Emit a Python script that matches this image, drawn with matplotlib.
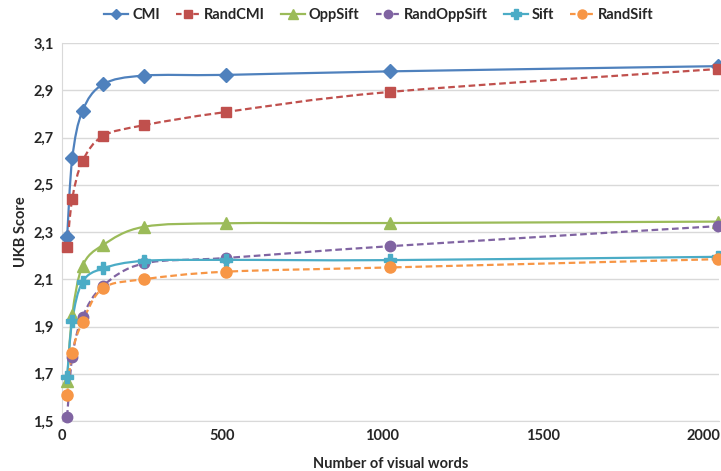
import numpy as np
import matplotlib.pyplot as plt
from matplotlib.path import Path
from matplotlib.patches import PathPatch
from matplotlib.lines import Line2D
from matplotlib.ticker import FuncFormatter

plt.rcParams['font.family'] = ['Lato', 'DejaVu Sans']

words = [16, 32, 64, 128, 256, 512, 1024, 2048]
cmi = [2.278, 2.612, 2.813, 2.925, 2.962, 2.965, 2.980, 3.002]
rand_cmi = [2.235, 2.440, 2.600, 2.706, 2.752, 2.808, 2.893, 2.990]
opp_sift = [1.670, 1.949, 2.156, 2.245, 2.322, 2.337, 2.338, 2.344]
rand_opp_sift = [1.518, 1.772, 1.940, 2.072, 2.167, 2.190, 2.240, 2.325]
sift = [1.688, 1.925, 2.088, 2.146, 2.178, 2.182, 2.181, 2.195]
rand_sift = [1.610, 1.789, 1.920, 2.062, 2.100, 2.132, 2.150, 2.185]

series = [
    ('CMI', cmi, '#4F81BD', '-', 'D', 7),
    ('RandCMI', rand_cmi, '#C0504D', '--', 's', 7.5),
    ('OppSift', opp_sift, '#9BBB59', '-', '^', 8),
    ('RandOppSift', rand_opp_sift, '#8064A2', '--', 'o', 7.5),
    ('Sift', sift, '#4BACC6', '-', 'P', 8.5),
    ('RandSift', rand_sift, '#F79646', '--', 'o', 8),
]


def smooth_path(x, y):
    # cubic bezier through the points, like a spreadsheet "smoothed line"
    p = np.column_stack([x, y]).astype(float)
    n = len(p)
    verts = [p[0]]
    codes = [Path.MOVETO]
    for i in range(n - 1):
        p0 = p[max(i - 1, 0)]
        p1 = p[i]
        p2 = p[i + 1]
        p3 = p[min(i + 2, n - 1)]
        c1 = p1 + (p2 - p0) / 6.0
        c2 = p2 - (p3 - p1) / 6.0
        verts += [c1, c2, p2]
        codes += [Path.CURVE4] * 3
    return Path(verts, codes)


fig = plt.figure(figsize=(7.21, 4.71), dpi=100)
ax = fig.add_axes([62 / 721, 1 - 421 / 471, 657 / 721, 378 / 471])

handles = []
for z, (name, vals, col, ls, mk, ms) in enumerate(series):
    dashes = (3, 1.6) if ls == '--' else None
    patch = PathPatch(smooth_path(words, vals), facecolor='none', edgecolor=col,
                      lw=1.6, linestyle=ls, zorder=3 + z)
    if dashes:
        patch.set_linestyle((0, dashes))
    ax.add_patch(patch)
    ax.plot(words, vals, linestyle='none', marker=mk, ms=ms, color=col,
            markeredgecolor=col, zorder=10 + z, clip_on=False)
    h = Line2D([], [], color=col, lw=1.6, marker=mk, ms=ms - 1.5)
    if dashes:
        h.set_linestyle((0, (2.5, 1.4)))
    handles.append(h)

ax.set_xlim(0, 2050)
ax.set_ylim(1.5, 3.1)
ax.set_xticks([0, 500, 1000, 1500, 2000])
ax.set_yticks(np.arange(1.5, 3.11, 0.2))
ax.yaxis.set_major_formatter(FuncFormatter(lambda v, p: ('%.1f' % v).replace('.', ',')))
ax.grid(axis='y', color='#d9d9d9', lw=1)
ax.set_axisbelow(True)
for s in ['top', 'right']:
    ax.spines[s].set_visible(False)
for s in ['left', 'bottom']:
    ax.spines[s].set_color('#d9d9d9')
ax.tick_params(length=0, labelsize=10.5, labelcolor='#262626', pad=6)
for lbl in ax.get_xticklabels() + ax.get_yticklabels():
    lbl.set_fontweight('bold')

ax.set_xlabel('Number of visual words', fontsize=10.5, fontweight='bold', color='#262626', labelpad=10)
ax.set_ylabel('UKB Score', fontsize=10.5, fontweight='bold', color='#262626', labelpad=4)

leg = fig.legend(handles, [s[0] for s in series], loc='center', ncol=6,
                 bbox_to_anchor=(379 / 721, 1 - 15 / 471), frameon=False,
                 handlelength=1.65, handletextpad=0.27, columnspacing=1.1,
                 prop={'weight': 'bold', 'size': 10.5})
for t in leg.get_texts():
    t.set_color('#262626')

fig.savefig('out.png', dpi=100)
